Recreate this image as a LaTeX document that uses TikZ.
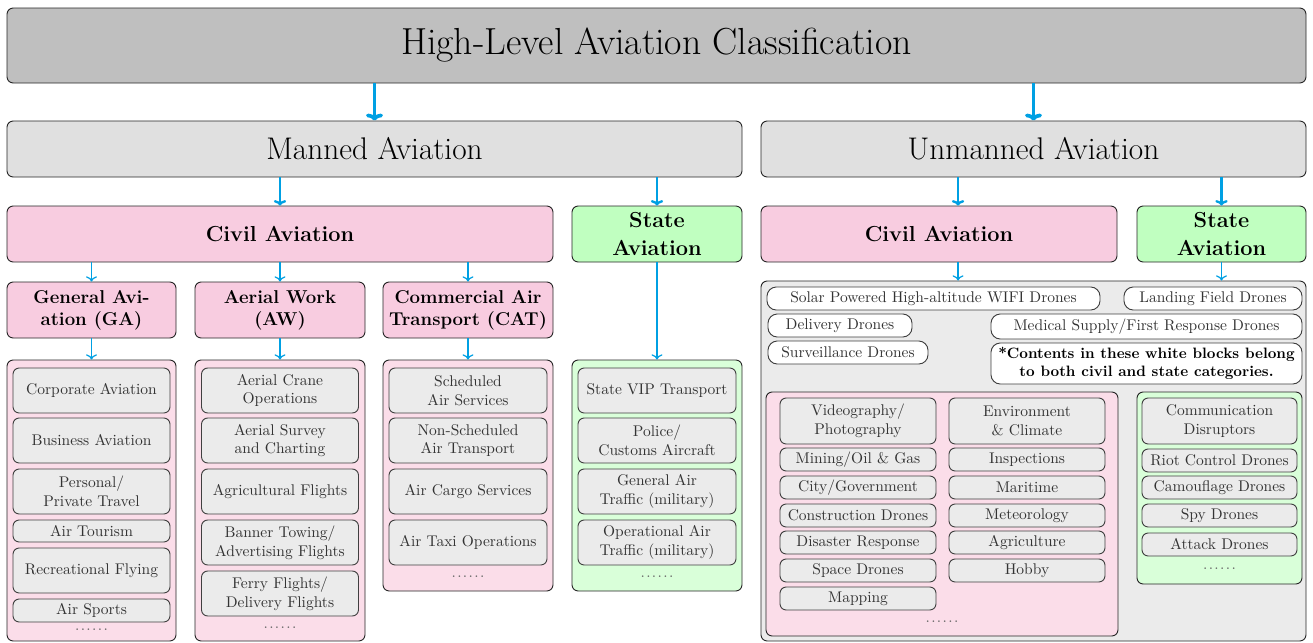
\documentclass[tikz,border=0pt]{standalone}
\usepackage{amsmath}
\usepackage{tikz}
\usetikzlibrary{arrows,arrows.meta,shapes,positioning}
\usepackage{xcolor}
\definecolor{avblue}{RGB}{0,160,227}
\definecolor{avpink}{RGB}{248,204,224}
\definecolor{avpinklight}{RGB}{251,221,233}
\definecolor{avgreen}{RGB}{192,255,192}
\definecolor{avgreenlight}{RGB}{217,255,217}
\definecolor{avgray}{RGB}{235,235,235}
\newcommand{\sixdots}{.\kern0.9pt.\kern0.9pt.\kern0.9pt.\kern0.9pt.\kern0.9pt.}
\tikzstyle{bigarrow} = [line width=2.4pt,-{To[length=4.5pt,width=11pt]},color=avblue]
\tikzstyle{midarrow} = [line width=1.5pt,-{To[length=3.5pt,width=8pt]},color=avblue]
\tikzstyle{arrow} = [line width=0.8pt,->,color=avblue]
\tikzstyle{box} = [draw=black!85, line width=0.6pt, rounded corners=4pt, align=center, inner sep=2pt]
\tikzstyle{item} = [box, fill=avgray, draw=black!75, text=black!80]
\tikzstyle{whiteitem} = [box, fill=white, draw=black!75, text=black!80, rounded corners=6pt]
\tikzstyle{moredots} = [text=black!60, inner sep=1pt]
\tikzset{sz/.style 2 args={minimum width=#1*0.645pt, minimum height=#2*0.645pt}}

\begin{document}
\begin{tikzpicture}[x=0.645pt, y=-0.645pt]
\useasboundingbox (0,0) rectangle (1313,642);

% Top levels
\node[box, fill=black!25, sz={1299}{75}, font=\fontsize{24.3}{29}\selectfont] (title) at (656.5,45.5) {High-Level Aviation Classification};
\node[box, fill=black!12, sz={735}{56}, font=\fontsize{20.2}{24}\selectfont] (manned) at (374.5,149) {Manned Aviation};
\node[box, fill=black!12, sz={545}{56}, font=\fontsize{20.2}{24}\selectfont] (unmanned) at (1033.5,149) {Unmanned Aviation};

\node[box, fill=avpink, sz={546}{56}, font=\fontsize{14}{18.5}\selectfont\bfseries] (mcivil) at (280,234) {Civil Aviation};
\node[box, fill=avgreen, sz={170}{56}, font=\fontsize{14}{18.5}\selectfont\bfseries] (mstate) at (657,234) {State\\Aviation};
\node[box, fill=avpink, sz={356}{56}, font=\fontsize{14}{18.5}\selectfont\bfseries] (ucivil) at (939,234) {Civil Aviation};
\node[box, fill=avgreen, sz={169}{56}, font=\fontsize{14}{18.5}\selectfont\bfseries] (ustate) at (1221.5,234) {State\\Aviation};

% Manned civil categories
\node[box, fill=avpink, sz={169}{56}, font=\large\bfseries] (ga) at (91.5,310) {General Avi-\\ation (GA)};
\node[box, fill=avpink, sz={170}{56}, font=\large\bfseries] (aw) at (280,310) {Aerial Work\\(AW)};
\node[box, fill=avpink, sz={170}{56}, font=\large\bfseries] (cat) at (468,310) {Commercial Air\\Transport (CAT)};

% Containers
\node[box, fill=avpinklight, sz={169}{281}] (gabox) at (91.5,500.5) {};
\node[box, fill=avpinklight, sz={170}{281}] (awbox) at (280,500.5) {};
\node[box, fill=avpinklight, sz={170}{231}] (catbox) at (468,475.5) {};
\node[box, fill=avgreenlight, sz={170}{231}] (mstbox) at (657,475.5) {};
\node[box, fill=avgray, sz={545}{360}] (unbox) at (1033.5,461) {};
\node[box, fill=avpinklight, sz={352}{244}] (ucbox) at (942,514) {};
\node[box, fill=avgreenlight, sz={165}{192}] (usbox) at (1219.5,488) {};

% General aviation
\node[item, sz={157}{45}] (corp) at (91.5,390.5) {Corporate Aviation};
\node[item, sz={157}{45}] (busi) at (91.5,440.5) {Business Aviation};
\node[item, sz={157}{45}] (pers) at (91.5,491.5) {Personal/\\Private Travel};
\node[item, sz={157}{22}] (tour) at (91.5,531) {Air Tourism};
\node[item, sz={157}{45}] (recr) at (91.5,570.5) {Recreational Flying};
\node[item, sz={157}{23}] (sport) at (91.5,610.5) {Air Sports};
\node[moredots] (gadots) at (91.5,630) {\sixdots};

% Aerial work
\node[item, sz={157}{45}] (crane) at (280,390.5) {Aerial Crane\\Operations};
\node[item, sz={157}{45}] (survey) at (280,440.5) {Aerial Survey\\and Charting};
\node[item, sz={157}{45}] (agri) at (280,491.5) {Agricultural Flights};
\node[item, sz={157}{45}] (banner) at (280,542.5) {Banner Towing/\\Advertising Flights};
\node[item, sz={157}{45}] (ferry) at (280,593.5) {Ferry Flights/\\Delivery Flights};
\node[moredots] (awdots) at (280,628) {\sixdots};

% Commercial air transport
\node[item, sz={158}{45}] (sched) at (468,390.5) {Scheduled\\Air Services};
\node[item, sz={158}{45}] (nonsched) at (468,440.5) {Non-Scheduled\\Air Transport};
\node[item, sz={158}{45}] (cargo) at (468,491.5) {Air Cargo Services};
\node[item, sz={158}{45}] (taxi) at (468,542.5) {Air Taxi Operations};
\node[moredots] (catdots) at (468,577) {\sixdots};

% State aviation (manned)
\node[item, sz={158}{45}] (vip) at (657,390.5) {State VIP Transport};
\node[item, sz={158}{45}] (police) at (657,440.5) {Police/\\Customs Aircraft};
\node[item, sz={158}{45}] (gat) at (657,491.5) {General Air\\Traffic (military)};
\node[item, sz={158}{45}] (oat) at (657,542.5) {Operational Air\\Traffic (military)};
\node[moredots] (msdots) at (657,577) {\sixdots};

% Shared drone blocks
\node[whiteitem, sz={333}{23}] (solar) at (933.5,298.5) {Solar Powered High-altitude WIFI Drones};
\node[whiteitem, sz={178}{23}] (landing) at (1213,298.5) {Landing Field Drones};
\node[whiteitem, sz={144}{23}] (delivery) at (840,325.5) {Delivery Drones};
\node[whiteitem, sz={311}{25}] (medical) at (1146.5,326.5) {Medical Supply/First Response Drones};
\node[whiteitem, sz={160}{23}] (surveil) at (848,352.5) {Surveillance Drones};
\node[whiteitem, sz={311}{41}, text=black, font=\fontsize{9.7}{11.6}\selectfont\bfseries, inner sep=1pt] (note) at (1146.5,363.5) {*Contents in these white blocks belong\\to both civil and state categories.};

% Unmanned civil
\node[item, sz={156}{46}] (video) at (858,421) {Videography/\\Photography};
\node[item, sz={156}{23}] (mining) at (858,459.5) {Mining/Oil \& Gas};
\node[item, sz={156}{23}] (city) at (858,487.5) {City/Government};
\node[item, sz={156}{23}] (constr) at (858,515.5) {Construction Drones};
\node[item, sz={156}{23}] (disaster) at (858,542.5) {Disaster Response};
\node[item, sz={156}{23}] (space) at (858,570.5) {Space Drones};
\node[item, sz={156}{23}] (mapping) at (858,598.5) {Mapping};
\node[item, sz={156}{46}] (env) at (1027,421) {Environment\\\& Climate};
\node[item, sz={156}{23}] (inspect) at (1027,459.5) {Inspections};
\node[item, sz={156}{23}] (maritime) at (1027,487.5) {Maritime};
\node[item, sz={156}{23}] (meteo) at (1027,515.5) {Meteorology};
\node[item, sz={156}{23}] (agric) at (1027,542.5) {Agriculture};
\node[item, sz={156}{23}] (hobby) at (1027,570.5) {Hobby};
\node[moredots] (ucdots) at (942,622) {\sixdots};

% Unmanned state
\node[item, sz={155}{46}] (comm) at (1219.5,421) {Communication\\Disruptors};
\node[item, sz={155}{23}] (riot) at (1219.5,460.5) {Riot Control Drones};
\node[item, sz={155}{23}] (camo) at (1219.5,487.5) {Camouflage Drones};
\node[item, sz={155}{23}] (spy) at (1219.5,515.5) {Spy Drones};
\node[item, sz={155}{23}] (attack) at (1219.5,544.5) {Attack Drones};
\node[moredots] (usdots) at (1219.5,569) {\sixdots};

% Arrows
\draw[bigarrow] (title.south -| manned.north) -- (manned.north);
\draw[bigarrow] (title.south -| unmanned.north) -- (unmanned.north);
\draw[midarrow] (manned.south -| mcivil.north) -- (mcivil.north);
\draw[midarrow] (manned.south -| mstate.north) -- (mstate.north);
\draw[midarrow] ([xshift=12.3pt]ucivil.north |- unmanned.south) -- ([xshift=12.3pt]ucivil.north);
\draw[midarrow] (unmanned.south -| ustate.north) -- (ustate.north);
\draw[arrow] (mcivil.south -| ga.north) -- (ga.north);
\draw[arrow] (mcivil.south -| aw.north) -- (aw.north);
\draw[arrow] (mcivil.south -| cat.north) -- (cat.north);
\draw[arrow] (ga.south) -- (gabox.north);
\draw[arrow] (aw.south) -- (awbox.north);
\draw[arrow] (cat.south) -- (catbox.north);
\draw[arrow] (mstate.south) -- (mstbox.north);
\draw[arrow] ([xshift=12.3pt]ucivil.south) -- ([xshift=12.3pt]ucivil.south |- unbox.north);
\draw[arrow] (ustate.south) -- (ustate.south |- unbox.north);
\end{tikzpicture}
\end{document}
